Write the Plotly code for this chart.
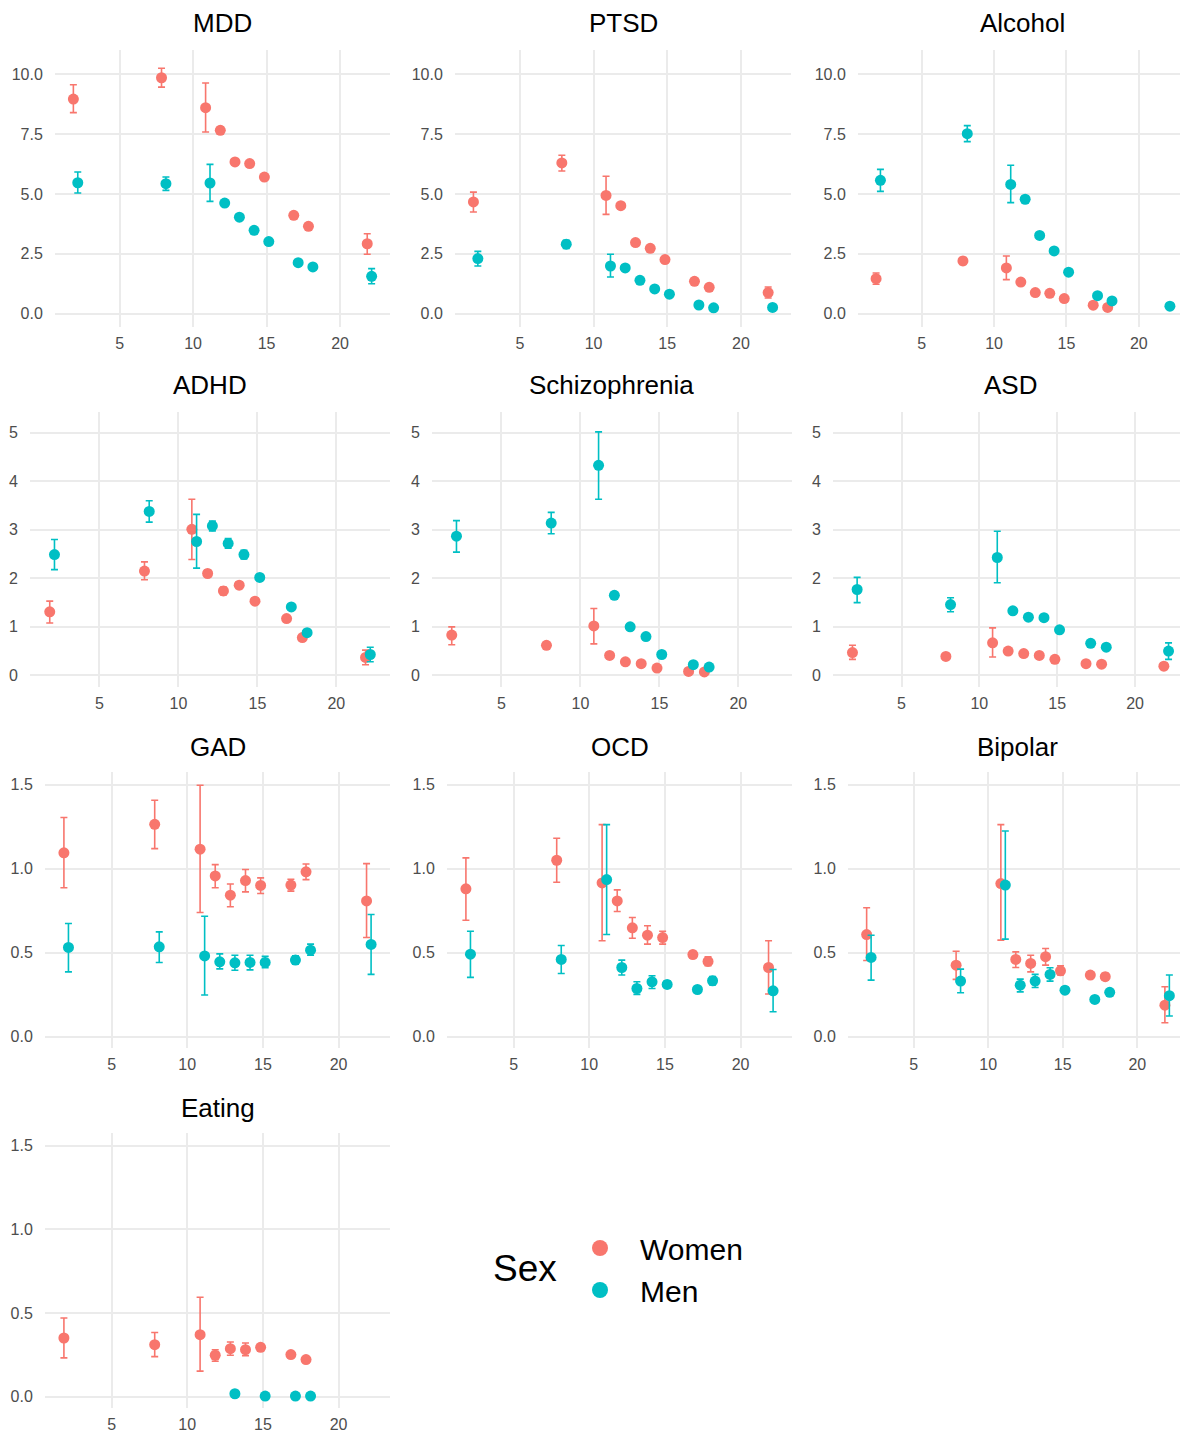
import plotly.graph_objects as go

# ---------------- data ----------------
AGES = [2, 8, 11, 12, 13, 14, 15, 17, 18, 22]
X_TICKS = [5, 10, 15, 20]

MDD_W = [8.97, 9.86, 8.61, 7.66, 6.34, 6.27, 5.71, 4.11, 3.65, 2.92]
MDD_W_LO = [8.40, 9.47, 7.59, 7.52, 6.22, 6.15, 5.63, 4.04, 3.58, 2.48]
MDD_W_HI = [9.57, 10.26, 9.64, 7.80, 6.46, 6.39, 5.79, 4.18, 3.72, 3.34]
MDD_M = [5.47, 5.43, 5.46, 4.62, 4.03, 3.48, 3.01, 2.13, 1.95, 1.56]
MDD_M_LO = [5.04, 5.15, 4.69, 4.55, 3.97, 3.42, 2.96, 2.07, 1.89, 1.25]
MDD_M_HI = [5.92, 5.71, 6.24, 4.69, 4.09, 3.54, 3.06, 2.19, 2.01, 1.88]

PTSD_W = [4.67, 6.30, 4.94, 4.51, 2.97, 2.73, 2.26, 1.35, 1.10, 0.88]
PTSD_W_LO = [4.25, 5.96, 4.15, 4.44, 2.91, 2.67, 2.21, 1.30, 1.05, 0.65]
PTSD_W_HI = [5.08, 6.62, 5.74, 4.58, 3.03, 2.79, 2.31, 1.40, 1.15, 1.11]
PTSD_M = [2.30, 2.90, 1.99, 1.91, 1.39, 1.03, 0.81, 0.36, 0.24, 0.26]
PTSD_M_LO = [1.99, 2.72, 1.53, 1.85, 1.34, 0.99, 0.77, 0.32, 0.20, 0.21]
PTSD_M_HI = [2.60, 3.06, 2.48, 1.97, 1.44, 1.07, 0.85, 0.40, 0.28, 0.31]

ALC_W = [1.46, 2.20, 1.91, 1.32, 0.88, 0.85, 0.63, 0.35, 0.26, None]
ALC_W_LO = [1.23, 2.06, 1.42, 1.27, 0.84, 0.81, 0.60, 0.32, 0.23, None]
ALC_W_HI = [1.70, 2.34, 2.41, 1.37, 0.92, 0.89, 0.66, 0.38, 0.29, None]
ALC_M = [5.57, 7.52, 5.40, 4.78, 3.27, 2.62, 1.73, 0.75, 0.53, 0.31]
ALC_M_LO = [5.11, 7.19, 4.64, 4.71, 3.21, 2.56, 1.68, 0.71, 0.49, 0.27]
ALC_M_HI = [6.03, 7.86, 6.20, 4.85, 3.33, 2.68, 1.78, 0.79, 0.57, 0.35]

ADHD_W = [1.31, 2.15, 3.01, 2.10, 1.74, 1.86, 1.53, 1.17, 0.78, 0.37]
ADHD_W_LO = [1.08, 1.97, 2.39, 2.03, 1.66, 1.79, 1.49, 1.13, 0.75, 0.22]
ADHD_W_HI = [1.53, 2.34, 3.63, 2.17, 1.82, 1.93, 1.57, 1.21, 0.81, 0.52]
ADHD_M = [2.49, 3.38, 2.76, 3.08, 2.72, 2.49, 2.02, 1.41, 0.88, 0.43]
ADHD_M_LO = [2.18, 3.16, 2.21, 2.98, 2.62, 2.40, 1.97, 1.37, 0.85, 0.28]
ADHD_M_HI = [2.80, 3.60, 3.32, 3.18, 2.82, 2.58, 2.07, 1.45, 0.91, 0.58]

SCZ_W = [0.83, 0.62, 1.02, 0.41, 0.28, 0.24, 0.15, 0.08, 0.07, None]
SCZ_W_LO = [0.63, 0.56, 0.65, 0.38, 0.26, 0.22, 0.13, 0.07, 0.06, None]
SCZ_W_HI = [1.00, 0.68, 1.38, 0.44, 0.30, 0.26, 0.17, 0.09, 0.08, None]
SCZ_M = [2.87, 3.14, 4.33, 1.65, 1.00, 0.80, 0.43, 0.22, 0.17, None]
SCZ_M_LO = [2.54, 2.92, 3.63, 1.59, 0.96, 0.77, 0.40, 0.20, 0.15, None]
SCZ_M_HI = [3.19, 3.36, 5.02, 1.71, 1.04, 0.83, 0.46, 0.24, 0.19, None]

ASD_W = [0.47, 0.39, 0.67, 0.50, 0.45, 0.41, 0.33, 0.24, 0.23, 0.19]
ASD_W_LO = [0.33, 0.35, 0.38, 0.47, 0.42, 0.38, 0.31, 0.22, 0.21, 0.12]
ASD_W_HI = [0.62, 0.43, 0.98, 0.53, 0.48, 0.44, 0.35, 0.26, 0.25, 0.26]
ASD_M = [1.77, 1.46, 2.43, 1.33, 1.20, 1.19, 0.94, 0.66, 0.58, 0.50]
ASD_M_LO = [1.50, 1.31, 1.91, 1.28, 1.16, 1.15, 0.91, 0.63, 0.55, 0.33]
ASD_M_HI = [2.02, 1.60, 2.97, 1.38, 1.24, 1.23, 0.97, 0.69, 0.61, 0.67]

GAD_W = [1.094, 1.264, 1.116, 0.957, 0.842, 0.929, 0.900, 0.902, 0.981, 0.808]
GAD_W_LO = [0.886, 1.119, 0.739, 0.886, 0.773, 0.862, 0.852, 0.866, 0.935, 0.590]
GAD_W_HI = [1.304, 1.407, 1.496, 1.024, 0.909, 0.995, 0.945, 0.937, 1.028, 1.030]
GAD_M = [0.531, 0.535, 0.481, 0.446, 0.440, 0.442, 0.442, 0.456, 0.515, 0.549]
GAD_M_LO = [0.386, 0.442, 0.248, 0.404, 0.396, 0.398, 0.410, 0.432, 0.485, 0.371]
GAD_M_HI = [0.674, 0.624, 0.717, 0.493, 0.485, 0.485, 0.478, 0.481, 0.551, 0.727]

OCD_W = [0.880, 1.050, 0.915, 0.808, 0.648, 0.604, 0.590, 0.489, 0.448, 0.412]
OCD_W_LO = [0.693, 0.919, 0.571, 0.745, 0.586, 0.551, 0.551, 0.469, 0.422, 0.254]
OCD_W_HI = [1.064, 1.181, 1.262, 0.874, 0.709, 0.660, 0.628, 0.509, 0.476, 0.571]
OCD_M = [0.491, 0.460, 0.935, 0.412, 0.287, 0.327, 0.311, 0.281, 0.333, 0.273]
OCD_M_LO = [0.353, 0.376, 0.608, 0.367, 0.252, 0.287, 0.291, 0.266, 0.308, 0.149]
OCD_M_HI = [0.628, 0.543, 1.262, 0.456, 0.327, 0.363, 0.331, 0.296, 0.358, 0.400]

BIP_W = [0.608, 0.426, 0.911, 0.460, 0.436, 0.476, 0.392, 0.367, 0.357, 0.188]
BIP_W_LO = [0.454, 0.341, 0.575, 0.412, 0.386, 0.426, 0.367, 0.350, 0.337, 0.083]
BIP_W_HI = [0.767, 0.509, 1.262, 0.505, 0.485, 0.525, 0.422, 0.384, 0.377, 0.297]
BIP_M = [0.472, 0.331, 0.902, 0.307, 0.331, 0.371, 0.277, 0.222, 0.264, 0.244]
BIP_M_LO = [0.337, 0.262, 0.581, 0.267, 0.293, 0.331, 0.262, 0.210, 0.250, 0.123]
BIP_M_HI = [0.604, 0.402, 1.224, 0.343, 0.371, 0.410, 0.292, 0.234, 0.278, 0.367]

EAT_W = [0.351, 0.311, 0.371, 0.248, 0.287, 0.281, 0.295, 0.252, 0.222, None]
EAT_W_LO = [0.232, 0.240, 0.153, 0.212, 0.248, 0.246, 0.280, 0.240, 0.210, None]
EAT_W_HI = [0.470, 0.384, 0.594, 0.281, 0.327, 0.321, 0.310, 0.264, 0.234, None]
EAT_M = [None, None, None, None, 0.018, None, 0.004, 0.004, 0.004, None]
EAT_M_LO = [None, None, None, None, 0.012, None, 0.002, 0.002, 0.002, None]
EAT_M_HI = [None, None, None, None, 0.024, None, 0.006, 0.006, 0.006, None]

PANEL_TITLES = ["MDD", "PTSD", "Alcohol", "ADHD", "Schizophrenia", "ASD",
                "GAD", "OCD", "Bipolar", "Eating"]
SEX_LABELS = ["Women", "Men"]
LEGEND_TITLE = "Sex"

PANEL_DATA = [
    (MDD_W, MDD_W_LO, MDD_W_HI, MDD_M, MDD_M_LO, MDD_M_HI),
    (PTSD_W, PTSD_W_LO, PTSD_W_HI, PTSD_M, PTSD_M_LO, PTSD_M_HI),
    (ALC_W, ALC_W_LO, ALC_W_HI, ALC_M, ALC_M_LO, ALC_M_HI),
    (ADHD_W, ADHD_W_LO, ADHD_W_HI, ADHD_M, ADHD_M_LO, ADHD_M_HI),
    (SCZ_W, SCZ_W_LO, SCZ_W_HI, SCZ_M, SCZ_M_LO, SCZ_M_HI),
    (ASD_W, ASD_W_LO, ASD_W_HI, ASD_M, ASD_M_LO, ASD_M_HI),
    (GAD_W, GAD_W_LO, GAD_W_HI, GAD_M, GAD_M_LO, GAD_M_HI),
    (OCD_W, OCD_W_LO, OCD_W_HI, OCD_M, OCD_M_LO, OCD_M_HI),
    (BIP_W, BIP_W_LO, BIP_W_HI, BIP_M, BIP_M_LO, BIP_M_HI),
    (EAT_W, EAT_W_LO, EAT_W_HI, EAT_M, EAT_M_LO, EAT_M_HI),
]

# ---------------- layout / style ----------------
PAGE_MARGIN = 8           # default body margin of the html page
W, H = 1188 - PAGE_MARGIN, 1436 - PAGE_MARGIN
FONT = "Liberation Sans, Arial, Helvetica, sans-serif"
COLORS = ["#F8766D", "#00BFC4"]
DODGE = 0.15
GRID = "#EBEBEB"
TICK_COLOR = "#4D4D4D"

# panel plot areas in page pixels: (left, right, top, bottom)
PANEL_PX = [
    (55, 390, 50, 327), (455, 791, 50, 327), (858, 1188, 50, 327),
    (30, 390, 412, 687), (432, 792, 412, 687), (833, 1188, 412, 687),
    (45, 390, 772, 1048), (447, 792, 772, 1048), (848, 1188, 772, 1048),
    (45, 390, 1133, 1408),
]
TITLE_Y_PX = [23, 23, 23, 385, 385, 385, 747, 747, 747, 1108]
ROW_Y = [
    dict(range=[-0.56, 11.02], tickvals=[0, 2.5, 5, 7.5, 10], tickformat=".1f"),
    dict(range=[-0.24, 5.43], tickvals=[0, 1, 2, 3, 4, 5], tickformat="d"),
    dict(range=[-0.067, 1.575], tickvals=[0, 0.5, 1.0, 1.5], tickformat=".1f"),
    dict(range=[-0.067, 1.575], tickvals=[0, 0.5, 1.0, 1.5], tickformat=".1f"),
]
X_RANGE = [0.6, 23.4]


def px_x(p):
    return (p - PAGE_MARGIN) / W


def px_y(p):
    return 1 - (p - PAGE_MARGIN) / H


def errs(est, lo, hi):
    plus = [(h - e) if e is not None else 0 for e, h in zip(est, hi)]
    minus = [(e - l) if e is not None else 0 for e, l in zip(est, lo)]
    return plus, minus


fig = go.Figure()
annotations = []
layout_axes = {}

for i, (title, data) in enumerate(zip(PANEL_TITLES, PANEL_DATA)):
    suf = "" if i == 0 else str(i + 1)
    left, right, top, bottom = PANEL_PX[i]
    xd = [max(0, px_x(left)), min(1, px_x(right))]
    yd = [max(0, px_y(bottom)), min(1, px_y(top))]
    row = i // 3
    layout_axes["xaxis" + suf] = dict(
        domain=xd, range=X_RANGE, tickvals=X_TICKS, anchor="y" + suf,
        showgrid=True, gridcolor=GRID, gridwidth=1.5, zeroline=False,
        showline=False, ticks="outside", ticklen=2, tickcolor="rgba(0,0,0,0)",
        tickfont=dict(family=FONT, size=16, color=TICK_COLOR),
    )
    layout_axes["yaxis" + suf] = dict(
        domain=yd, anchor="x" + suf, showgrid=True, gridcolor=GRID,
        gridwidth=1.5, zeroline=False, showline=False, ticks="outside",
        ticklen=8, tickcolor="rgba(0,0,0,0)",
        tickfont=dict(family=FONT, size=16, color=TICK_COLOR),
        **ROW_Y[row],
    )
    annotations.append(dict(
        text=title, x=(xd[0] + xd[1]) / 2, y=px_y(TITLE_Y_PX[i]),
        xref="paper", yref="paper", xanchor="center", yanchor="middle",
        showarrow=False, font=dict(family=FONT, size=26, color="#000000"),
    ))
    w_est, w_lo, w_hi, m_est, m_lo, m_hi = data
    for s, (est, lo, hi, off) in enumerate([(w_est, w_lo, w_hi, -DODGE),
                                            (m_est, m_lo, m_hi, DODGE)]):
        plus, minus = errs(est, lo, hi)
        fig.add_trace(go.Scatter(
            x=[a + off for a in AGES], y=est, mode="markers",
            marker=dict(size=11, color=COLORS[s]),
            error_y=dict(type="data", symmetric=False, array=plus,
                         arrayminus=minus, color=COLORS[s], thickness=1.6,
                         width=3.5),
            xaxis="x" + suf, yaxis="y" + suf, name=SEX_LABELS[s],
            legendgroup=SEX_LABELS[s], showlegend=False,
            hoverinfo="skip",
        ))

# legend-only entries (no coordinates)
for s in range(2):
    fig.add_trace(go.Scatter(
        x=[None], y=[None], mode="markers",
        marker=dict(size=28, color=COLORS[s]),
        name=SEX_LABELS[s], legendgroup=SEX_LABELS[s], showlegend=True,
    ))

# legend title as a text label, vertically centred on the key
annotations.append(dict(
    text=LEGEND_TITLE, x=px_x(525), y=px_y(1268), xref="paper", yref="paper",
    xanchor="center", yanchor="middle", showarrow=False,
    font=dict(family=FONT, size=37, color="#000000"),
))

fig.update_layout(
    width=W, height=H, margin=dict(l=0, r=0, t=0, b=0),
    paper_bgcolor="white", plot_bgcolor="white",
    font=dict(family=FONT),
    annotations=annotations,
    showlegend=True,
    legend=dict(
        x=px_x(560), y=px_y(1269), xanchor="left", yanchor="middle",
        orientation="v", bgcolor="rgba(0,0,0,0)", itemwidth=70,
        font=dict(family=FONT, size=30, color="#000000"),
        tracegroupgap=0, itemsizing="trace",
    ),
    **layout_axes,
)

fig.write_html("out.html")
